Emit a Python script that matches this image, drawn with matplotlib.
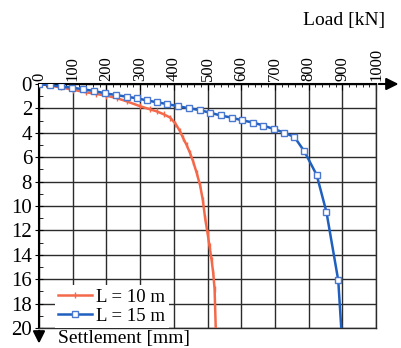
import numpy as np
import matplotlib
matplotlib.use('Agg')
import matplotlib.pyplot as plt

# L = 10 m pile (load kN, settlement mm)
load_10 = [0, 30, 65, 100, 140, 170, 200, 230, 260, 300, 330, 350, 370, 389, 405,
           418, 428, 438, 448, 458, 468, 478, 486, 493, 500, 506, 512, 517, 521, 525]
sett_10 = [0, 0.12, 0.28, 0.47, 0.68, 0.82, 0.96, 1.15, 1.42, 1.82, 2.08, 2.25, 2.48, 2.75, 3.25,
           3.85, 4.45, 5.0, 5.65, 6.4, 7.3, 8.3, 9.5, 11.0, 12.2, 13.3, 14.4, 15.5, 16.8, 20.5]

# L = 15 m pile
load_15 = [0, 33, 65, 98, 130, 163, 195, 228, 260, 290, 320, 350, 380, 412, 444, 478,
           507, 539, 572, 603, 636, 666, 698, 727, 758, 787, 824, 853, 888, 898]
sett_15 = [0, 0.1, 0.2, 0.3, 0.43, 0.57, 0.76, 0.9, 1.04, 1.17, 1.34, 1.5, 1.64, 1.82, 1.98, 2.15,
           2.35, 2.58, 2.76, 2.98, 3.16, 3.41, 3.7, 3.98, 4.35, 5.5, 7.46, 10.5, 16.1, 20.5]

x_ticks = list(range(0, 1001, 100))
y_ticks = list(range(0, 21, 2))

serif = ['Liberation Serif', 'DejaVu Serif']
plt.rcParams['font.family'] = serif

fig = plt.figure(figsize=(4.01, 3.48), dpi=100)
ax = fig.add_axes([39 / 401, 1 - 328 / 348, 337 / 401, 244 / 348])

ax.plot(load_10, sett_10, color='#f4694a', lw=1.8, marker='|', ms=4, mew=1,
        markevery=slice(0, -1), label='L = 10 m', zorder=3)
ax.plot(load_15, sett_15, color='#1f5fbf', lw=1.8, marker='s', ms=5, mew=1,
        mfc='white', mec='#4a78d0', markevery=slice(0, -1), label='L = 15 m', zorder=4)

ax.set_xlim(0, 1000)
ax.set_ylim(20, 0)
ax.set_xticks(x_ticks)
ax.set_xticklabels([str(v) for v in x_ticks], fontfamily=serif)
ax.set_xticks(np.arange(0, 1001, 20), minor=True)
ax.set_yticks(y_ticks)
ax.set_yticklabels([str(v) for v in y_ticks], fontfamily=serif)
ax.set_yticks(np.arange(0, 21, 1), minor=True)
ax.xaxis.tick_top()
ax.tick_params(axis='x', which='major', labelsize=12, labelrotation=90, direction='in',
               length=4, pad=2)
ax.tick_params(axis='x', which='minor', direction='in', length=2.5)
ax.tick_params(axis='y', which='major', labelsize=15, direction='inout', length=6, pad=2)
ax.tick_params(axis='y', which='minor', direction='in', length=3)
ax.grid(True, which='major', color='#2b2b2b', lw=1)
ax.set_axisbelow(True)

for s in ['right', 'bottom']:
    ax.spines[s].set_color('#2b2b2b')
    ax.spines[s].set_linewidth(1)
ax.spines['top'].set_linewidth(1.5)
ax.spines['left'].set_linewidth(1.5)

# axis arrows
ax.annotate('', xy=(1.075, 1), xytext=(1.0, 1), xycoords='axes fraction',
            arrowprops=dict(arrowstyle='-|>', color='black', lw=1.5, mutation_scale=18),
            annotation_clip=False)
ax.annotate('', xy=(0, -0.075), xytext=(0, 0), xycoords='axes fraction',
            arrowprops=dict(arrowstyle='-|>', color='black', lw=1.5, mutation_scale=18),
            annotation_clip=False)

fig.text(385 / 401, 1 - 20 / 348, 'Load [kN]', fontsize=14, ha='right', va='center')
fig.text(58 / 401, 1 - 338 / 348, 'Settlement [mm]', fontsize=14, ha='left', va='center')

leg = ax.legend(loc='lower left', bbox_to_anchor=(0.03, -0.025), fontsize=13.5,
                frameon=True, framealpha=1, edgecolor='none', handlelength=1.8,
                handletextpad=0.2, labelspacing=0.1, borderpad=0.2, borderaxespad=0.3)
leg.get_frame().set_boxstyle('square', pad=0)

fig.savefig('out.png', dpi=100)
